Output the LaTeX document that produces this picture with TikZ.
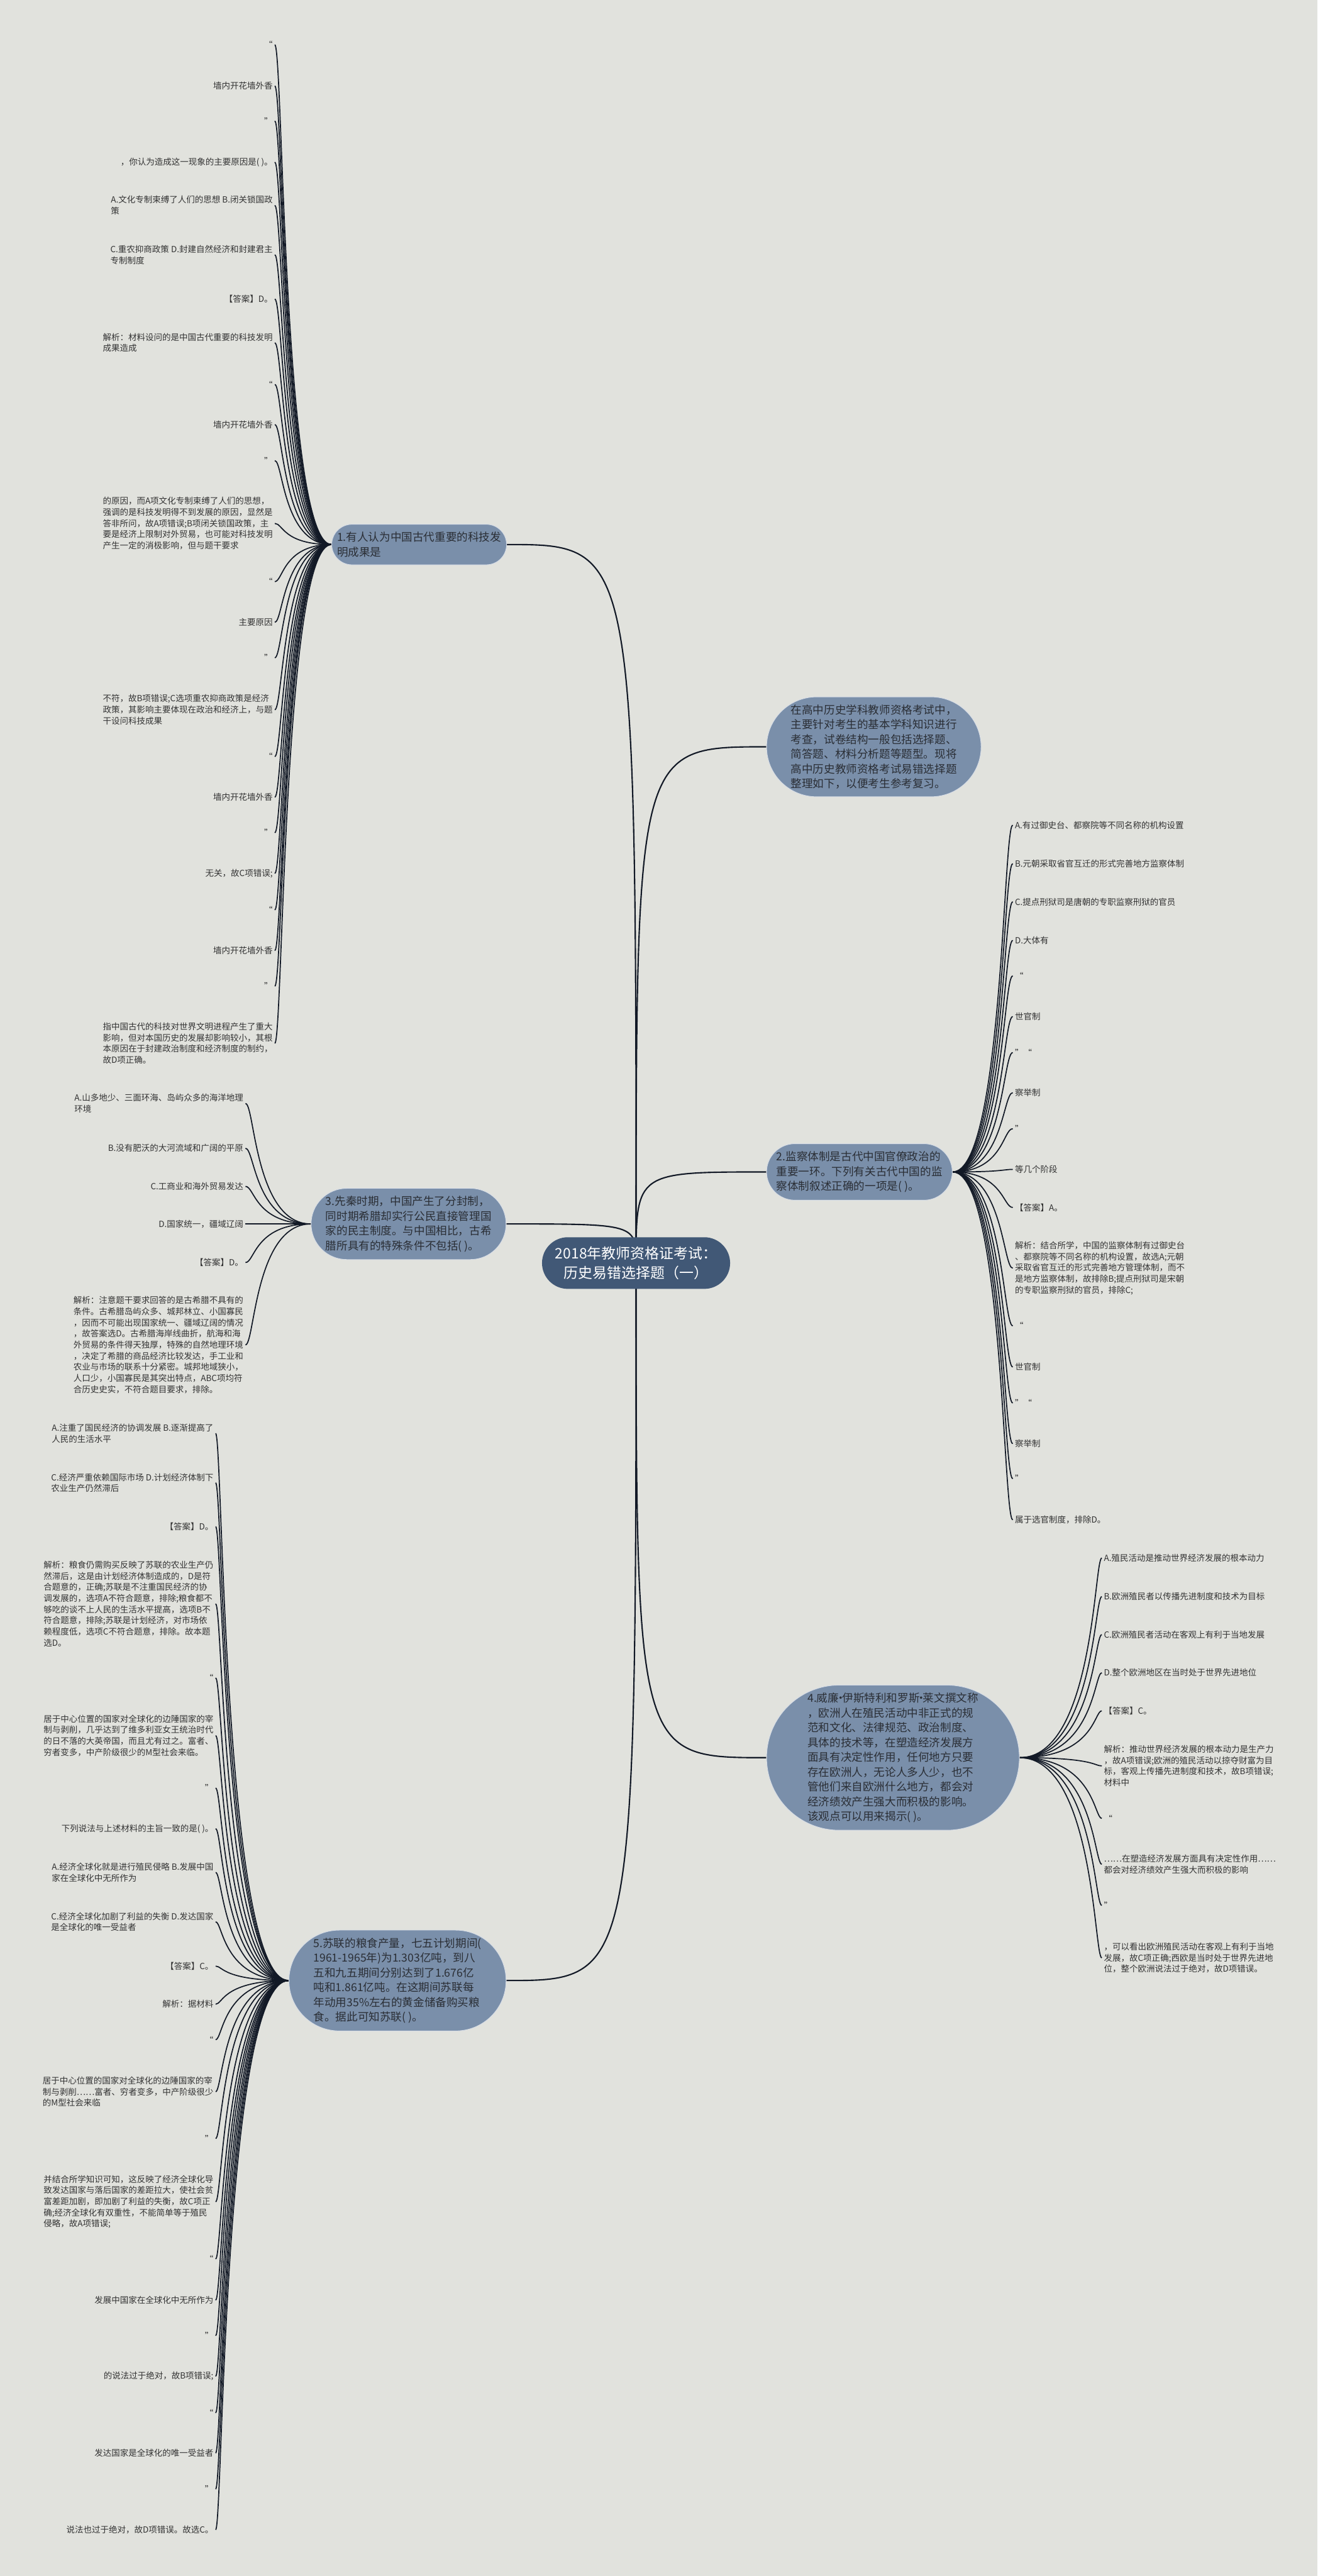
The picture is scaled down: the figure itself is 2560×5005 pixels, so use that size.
\documentclass[tikz,border=0pt]{standalone}
\usepackage{fontspec}
\setmainfont{Noto Sans CJK SC}
\usepackage{xcolor}
\usepackage{tikz}
\usetikzlibrary{shapes.misc}
\usetikzlibrary{backgrounds}
\definecolor{paper}{HTML}{E1E2DD}
\definecolor{rootfill}{HTML}{415876}
\definecolor{branchfill}{HTML}{7A8FAA}
\definecolor{branchink}{HTML}{2A2E35}
\definecolor{leafink}{HTML}{333333}
\definecolor{wire}{HTML}{121926}
\newcommand{\leaffont}{\fontsize{16.5}{21.6}\selectfont}
\newcommand{\branchfont}{\fontsize{21.5}{28.7}\selectfont}
\newcommand{\rootfont}{\fontsize{28}{38}\selectfont}
\newcommand{\mdot}{\makebox[0.3em]{·}}
\tikzset{
  rootbox/.style={rounded rectangle, fill=rootfill, text=white, align=center,
    font=\rootfont, inner xsep=14pt, inner ysep=18pt},
  branch/.style={rounded rectangle, fill=branchfill, draw=white!70!branchfill,
    line width=1.2pt, text=branchink, align=left, font=\branchfont,
    inner xsep=2pt, inner ysep=15pt},
  leafL/.style={anchor=east, align=left, font=\leaffont, text=leafink,
    inner xsep=4pt, inner ysep=2pt},
  leafR/.style={leafL, anchor=west},
  limb/.style={draw=wire, line width=2.6pt},
  twig/.style={draw=wire, line width=2.1pt},
}

\begin{document}
\begin{tikzpicture}[x=1pt,y=-1pt]
        \useasboundingbox (0,0) rectangle (2560,5005);
        % Root and branches
        \node[rootbox] (root) at (1236,2454) {2018年教师资格证考试：\\历史易错选择题（一）};
        \node[branch, anchor=east] (b1) at (985,1058) {1.有人认为中国古代重要的科技发\\明成果是};
        \node[branch, anchor=west] (intro) at (1489,1451) {在高中历史学科教师资格考试中，\\主要针对考生的基本学科知识进行\\考查，试卷结构一般包括选择题、\\简答题、材料分析题等题型。现将\\高中历史教师资格考试易错选择题\\整理如下，以便考生参考复习。};
        \node[branch, anchor=west] (b2) at (1489,2277) {2.监察体制是古代中国官僚政治的\\重要一环。下列有关古代中国的监\\察体制叙述正确的一项是( )。};
        \node[branch, anchor=east] (b3) at (984,2378) {3.先秦时期，中国产生了分封制，\\同时期希腊却实行公民直接管理国\\家的民主制度。与中国相比，古希\\腊所具有的特殊条件不包括( )。};
        \node[branch, anchor=west] (b4) at (1489,3415) {4.威廉\mdot 伊斯特利和罗斯\mdot 莱文撰文称\\，欧洲人在殖民活动中非正式的规\\范和文化、法律规范、政治制度、\\具体的技术等，在塑造经济发展方\\面具有决定性作用，任何地方只要\\存在欧洲人，无论人多人少，也不\\管他们来自欧洲什么地方，都会对\\经济绩效产生强大而积极的影响。\\该观点可以用来揭示( )。};
        \node[branch, anchor=east] (b5) at (984,3848) {5.苏联的粮食产量，七五计划期间(\\1961-1965年)为1.303亿吨，到八\\五和九五期间分别达到了1.676亿\\吨和1.861亿吨。在这期间苏联每\\年动用35\%左右的黄金储备购买粮\\食。据此可知苏联( )。};

        % Stems
        \coordinate (s1) at (550,0);
        \coordinate (s2) at (1949,0);
        \coordinate (s3) at (495,0);
        \coordinate (s4) at (2126,0);
        \coordinate (s5) at (433,0);

        % Branch 1 leaves
        \node[leafL] (b1l1) at (534,87) {“};
        \node[leafL] (b1l2) at (534,167) {墙内开花墙外香};
        \node[leafL] (b1l3) at (534,235) {”};
        \node[leafL] (b1l4) at (534,315) {，你认为造成这一现象的主要原因是( )。};
        \node[leafL] (b1l5) at (534,399) {A.文化专制束缚了人们的思想 B.闭关锁国政\\策};
        \node[leafL] (b1l6) at (534,495) {C.重农抑商政策 D.封建自然经济和封建君主\\专制制度};
        \node[leafL] (b1l7) at (534,581) {【答案】D。};
        \node[leafL] (b1l8) at (534,666) {解析：材料设问的是中国古代重要的科技发明\\成果造成};
        \node[leafL] (b1l9) at (534,747) {“};
        \node[leafL] (b1l10) at (534,825) {墙内开花墙外香};
        \node[leafL] (b1l11) at (534,895) {”};
        \node[leafL] (b1l12) at (534,1017) {的原因，而A项文化专制束缚了人们的思想，\\强调的是科技发明得不到发展的原因，显然是\\答非所问，故A项错误;B项闭关锁国政策，主\\要是经济上限制对外贸易，也可能对科技发明\\产生一定的消极影响，但与题干要求};
        \node[leafL] (b1l13) at (534,1130) {“};
        \node[leafL] (b1l14) at (534,1209) {主要原因};
        \node[leafL] (b1l15) at (534,1278) {”};
        \node[leafL] (b1l16) at (534,1379) {不符，故B项错误;C选项重农抑商政策是经济\\政策，其影响主要体现在政治和经济上，与题\\干设问科技成果};
        \node[leafL] (b1l17) at (534,1470) {“};
        \node[leafL] (b1l18) at (534,1549) {墙内开花墙外香};
        \node[leafL] (b1l19) at (534,1618) {”};
        \node[leafL] (b1l20) at (534,1697) {无关，故C项错误;};
        \node[leafL] (b1l21) at (534,1768) {“};
        \node[leafL] (b1l22) at (534,1847) {墙内开花墙外香};
        \node[leafL] (b1l23) at (534,1916) {”};
        \node[leafL] (b1l24) at (534,2027) {指中国古代的科技对世界文明进程产生了重大\\影响，但对本国历史的发展却影响较小，其根\\本原因在于封建政治制度和经济制度的制约，\\故D项正确。};

        % Branch 2 leaves
        \node[leafR] (b2l1) at (1968,1603) {A.有过御史台、都察院等不同名称的机构设置};
        \node[leafR] (b2l2) at (1968,1678) {B.元朝采取省官互迁的形式完善地方监察体制};
        \node[leafR] (b2l3) at (1968,1752) {C.提点刑狱司是唐朝的专职监察刑狱的官员};
        \node[leafR] (b2l4) at (1968,1827) {D.大体有};
        \node[leafR] (b2l5) at (1968,1896) {“};
        \node[leafR] (b2l6) at (1968,1975) {世官制};
        \node[leafR] (b2l7) at (1968,2045) {”“};
        \node[leafR] (b2l8) at (1968,2123) {察举制};
        \node[leafR] (b2l9) at (1968,2193) {”};
        \node[leafR] (b2l10) at (1968,2272) {等几个阶段};
        \node[leafR] (b2l11) at (1968,2346) {【答案】A。};
        \node[leafR] (b2l12) at (1968,2464) {解析：结合所学，中国的监察体制有过御史台\\、都察院等不同名称的机构设置，故选A;元朝\\采取省官互迁的形式完善地方管理体制，而不\\是地方监察体制，故排除B;提点刑狱司是宋朝\\的专职监察刑狱的官员，排除C;};
        \node[leafR] (b2l13) at (1968,2576) {“};
        \node[leafR] (b2l14) at (1968,2656) {世官制};
        \node[leafR] (b2l15) at (1968,2726) {”“};
        \node[leafR] (b2l16) at (1968,2805) {察举制};
        \node[leafR] (b2l17) at (1968,2873) {”};
        \node[leafR] (b2l18) at (1968,2953) {属于选官制度，排除D。};

        % Branch 3 leaves
        \node[leafL] (b3l1) at (477,2144) {A.山多地少、三面环海、岛屿众多的海洋地理\\环境};
        \node[leafL] (b3l2) at (477,2231) {B.没有肥沃的大河流域和广阔的平原};
        \node[leafL] (b3l3) at (477,2305) {C.工商业和海外贸易发达};
        \node[leafL] (b3l4) at (477,2378) {D.国家统一，疆域辽阔};
        \node[leafL] (b3l5) at (477,2453) {【答案】D。};
        \node[leafL] (b3l6) at (477,2613) {解析：注意题干要求回答的是古希腊不具有的\\条件。古希腊岛屿众多、城邦林立、小国寡民\\，因而不可能出现国家统一、疆域辽阔的情况\\，故答案选D。古希腊海岸线曲折，航海和海\\外贸易的条件得天独厚，特殊的自然地理环境\\，决定了希腊的商品经济比较发达，手工业和\\农业与市场的联系十分紧密。城邦地域狭小，\\人口少，小国寡民是其突出特点，ABC项均符\\合历史史实，不符合题目要求，排除。};

        % Branch 4 leaves
        \node[leafR] (b4l1) at (2141,3027) {A.殖民活动是推动世界经济发展的根本动力};
        \node[leafR] (b4l2) at (2141,3102) {B.欧洲殖民者以传播先进制度和技术为目标};
        \node[leafR] (b4l3) at (2141,3176) {C.欧洲殖民者活动在客观上有利于当地发展};
        \node[leafR] (b4l4) at (2141,3250) {D.整个欧洲地区在当时处于世界先进地位};
        \node[leafR] (b4l5) at (2141,3324) {【答案】C。};
        \node[leafR] (b4l6) at (2141,3431) {解析：推动世界经济发展的根本动力是生产力\\，故A项错误;欧洲的殖民活动以掠夺财富为目\\标，客观上传播先进制度和技术，故B项错误;\\材料中};
        \node[leafR] (b4l7) at (2141,3533) {“};
        \node[leafR] (b4l8) at (2141,3622) {……在塑造经济发展方面具有决定性作用……\\都会对经济绩效产生强大而积极的影响};
        \node[leafR] (b4l9) at (2141,3702) {”};
        \node[leafR] (b4l10) at (2141,3804) {，可以看出欧洲殖民活动在客观上有利于当地\\发展，故C项正确;西欧是当时处于世界先进地\\位，整个欧洲说法过于绝对，故D项错误。};

        % Branch 5 leaves
        \node[leafL] (b5l1) at (419,2785) {A.注重了国民经济的协调发展 B.逐渐提高了\\人民的生活水平};
        \node[leafL] (b5l2) at (419,2881) {C.经济严重依赖国际市场 D.计划经济体制下\\农业生产仍然滞后};
        \node[leafL] (b5l3) at (419,2966) {【答案】D。};
        \node[leafL] (b5l4) at (419,3116) {解析：粮食仍需购买反映了苏联的农业生产仍\\然滞后，这是由计划经济体制造成的，D是符\\合题意的，正确;苏联是不注重国民经济的协\\调发展的，选项A不符合题意，排除;粮食都不\\够吃的谈不上人民的生活水平提高，选项B不\\符合题意，排除;苏联是计划经济，对市场依\\赖程度低，选项C不符合题意，排除。故本题\\选D。};
        \node[leafL] (b5l5) at (419,3260) {“};
        \node[leafL] (b5l6) at (419,3372) {居于中心位置的国家对全球化的边陲国家的宰\\制与剥削，几乎达到了维多利亚女王统治时代\\的日不落的大英帝国，而且尤有过之。富者、\\穷者变多，中产阶级很少的M型社会来临。};
        \node[leafL] (b5l7) at (419,3474) {”};
        \node[leafL] (b5l8) at (419,3553) {下列说法与上述材料的主旨一致的是( )。};
        \node[leafL] (b5l9) at (419,3638) {A.经济全球化就是进行殖民侵略 B.发展中国\\家在全球化中无所作为};
        \node[leafL] (b5l10) at (419,3734) {C.经济全球化加剧了利益的失衡 D.发达国家\\是全球化的唯一受益者};
        \node[leafL] (b5l11) at (419,3820) {【答案】C。};
        \node[leafL] (b5l12) at (419,3894) {解析：据材料};
        \node[leafL] (b5l13) at (419,3963) {“};
        \node[leafL] (b5l14) at (419,4064) {居于中心位置的国家对全球化的边陲国家的宰\\制与剥削……富者、穷者变多，中产阶级很少\\的M型社会来临};
        \node[leafL] (b5l15) at (419,4155) {”};
        \node[leafL] (b5l16) at (419,4278) {并结合所学知识可知，这反映了经济全球化导\\致发达国家与落后国家的差距拉大，使社会贫\\富差距加剧，即加剧了利益的失衡，故C项正\\确;经济全球化有双重性，不能简单等于殖民\\侵略，故A项错误;};
        \node[leafL] (b5l17) at (419,4389) {“};
        \node[leafL] (b5l18) at (419,4469) {发展中国家在全球化中无所作为};
        \node[leafL] (b5l19) at (419,4538) {”};
        \node[leafL] (b5l20) at (419,4617) {的说法过于绝对，故B项错误;};
        \node[leafL] (b5l21) at (419,4688) {“};
        \node[leafL] (b5l22) at (419,4766) {发达国家是全球化的唯一受益者};
        \node[leafL] (b5l23) at (419,4836) {”};
        \node[leafL] (b5l24) at (419,4915) {说法也过于绝对，故D项错误。故选C。};

        % Connectors, behind the boxes
        \begin{scope}[on background layer]
          \fill[paper] (0,0) rectangle (2560,5005);
          \foreach \b in {b1,b3,b5}
            \draw[limb] (root.center) .. controls (root.center |- \b.east) .. (\b.east);
          \foreach \b in {intro,b2,b4}
            \draw[limb] (root.center) .. controls (root.center |- \b.west) .. (\b.west);
          \foreach \i in {1,...,24}
            \draw[twig] (b1.west) .. controls (b1.west -| s1) and (b1l\i.east -| s1) .. (b1l\i.east);
          \foreach \i in {1,...,18}
            \draw[twig] (b2.east) .. controls (b2.east -| s2) and (b2l\i.west -| s2) .. (b2l\i.west);
          \foreach \i in {1,...,6}
            \draw[twig] (b3.west) .. controls (b3.west -| s3) and (b3l\i.east -| s3) .. (b3l\i.east);
          \foreach \i in {1,...,10}
            \draw[twig] (b4.east) .. controls (b4.east -| s4) and (b4l\i.west -| s4) .. (b4l\i.west);
          \foreach \i in {1,...,24}
            \draw[twig] (b5.west) .. controls (b5.west -| s5) and (b5l\i.east -| s5) .. (b5l\i.east);
        \end{scope}
      \end{tikzpicture}
\end{document}
